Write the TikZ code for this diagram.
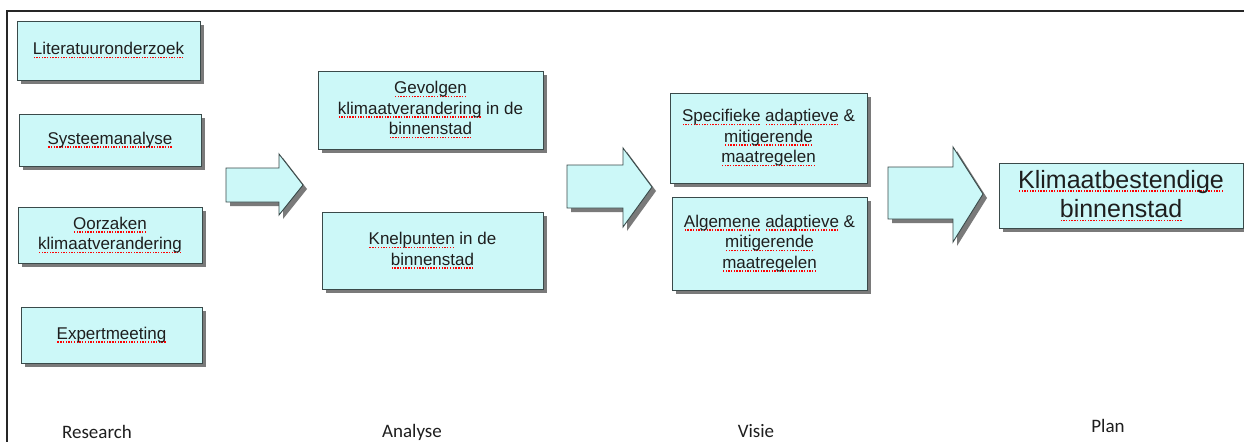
\documentclass[tikz,border=0pt]{standalone}
\usepackage{fontspec}
\setmainfont{Liberation Sans}
\newfontfamily\labfont{Carlito}
\usetikzlibrary{shadows}
\definecolor{boxfill}{HTML}{CCF8F8}
\definecolor{boxline}{HTML}{3A4A4A}
\definecolor{shadowgray}{HTML}{7A7A7A}
\definecolor{txt}{HTML}{1E1E1E}
\newcommand\sqw[1]{\setbox0\hbox{#1}\rlap{\raisebox{-3.4pt}{\color{red}\hbox to \wd0{\xleaders\hbox to 2.7pt{\hss\rule{1.4pt}{1.4pt}\hss}\hfill}}}\box0\relax}
\tikzset{
  box/.style={draw=boxline, line width=0.9pt, fill=boxfill, inner sep=0pt, align=center,
    text=txt, font=\fontsize{17}{20.5}\selectfont,
    drop shadow={shadow xshift=4pt, shadow yshift=-4pt, fill=shadowgray, opacity=1}},
  blockarrow/.style={draw=boxline, line width=0.9pt, fill=boxfill,
    drop shadow={shadow xshift=4pt, shadow yshift=-4pt, fill=shadowgray, opacity=1}},
  phase/.style={font=\labfont\fontsize{19}{20}\selectfont, text=txt, inner sep=0pt},
  frame/.style={draw=black!85, line width=1.6pt}
}
\begin{document}
\begin{tikzpicture}[x=1pt,y=-1pt]
\useasboundingbox (0,0) rectangle (1244,442);
\fill[white] (0,0) rectangle (1244,442);
% frame (top and left edges only)
\draw[frame] (1244,11) -- (7,11) -- (7,442);

% Research column
\node[box, minimum width=183pt, minimum height=59pt] (lit) at (108.5,50.5) {\sqw{Literatuuronderzoek}};
\node[box, minimum width=182pt, minimum height=52pt] (sys) at (110,140) {\sqw{Systeemanalyse}};
\node[box, minimum width=184pt, minimum height=56pt] (oor) at (110,235) {\sqw{Oorzaken}\\\sqw{klimaatverandering}};
\node[box, minimum width=181pt, minimum height=56pt] (exp) at (111.5,335) {\sqw{Expertmeeting}};

% arrow 1
\draw[blockarrow] (226,168) -- (279,168) -- (279,154) -- (303,185) -- (279,215) -- (279,202) -- (226,202) -- cycle;

% Analyse column
\node[box, minimum width=225pt, minimum height=78pt] (gev) at (430.5,110) {\sqw{Gevolgen}\\\sqw{klimaatverandering} in de\\\sqw{binnenstad}};
\node[box, minimum width=221pt, minimum height=77pt] (kne) at (432.5,250.5) {\sqw{Knelpunten} in de\\\sqw{binnenstad}};

% arrow 2
\draw[blockarrow] (567,165) -- (623,165) -- (623,148) -- (652,187) -- (623,227) -- (623,208) -- (567,208) -- cycle;

% Visie column
\node[box, minimum width=197pt, minimum height=90pt] (spe) at (768.5,138) {\sqw{Specifieke} \sqw{adaptieve} \&\\\sqw{mitigerende}\\\sqw{maatregelen}};
\node[box, minimum width=195pt, minimum height=93pt] (alg) at (769.5,243.5) {\sqw{Algemene} \sqw{adaptieve} \&\\\sqw{mitigerende}\\\sqw{maatregelen}};

% arrow 3
\draw[blockarrow] (888,167) -- (953,167) -- (953,147) -- (983,194) -- (953,242) -- (953,219) -- (888,219) -- cycle;

% Plan
\node[box, minimum width=244pt, minimum height=65pt, font=\fontsize{25}{29.5}\selectfont] (kli) at (1121,195.5) {\sqw{Klimaatbestendige}\\\sqw{binnenstad}};

% phase labels
\node[phase] (research) at (97,432) {Research};
\node[phase] (analyse) at (412,432) {Analyse};
\node[phase] (visie) at (756,431) {Visie};
\node[phase] (plan) at (1108,426) {Plan};
\end{tikzpicture}
\end{document}
